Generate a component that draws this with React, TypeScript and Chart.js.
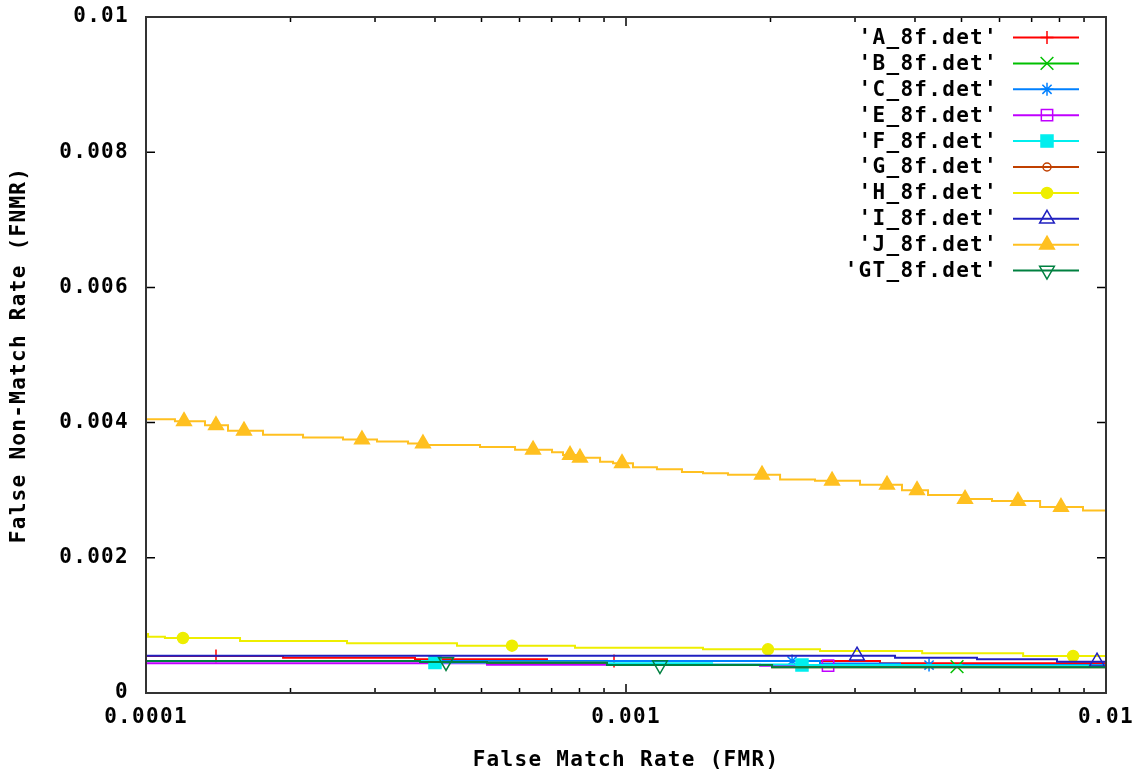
import React, { useEffect, useRef } from 'react';
import { Chart, registerables } from 'chart.js';
import { drawPoint } from 'chart.js/helpers';

Chart.register(...registerables);

// ---------- text ----------
const SERIES_NAMES = [
  "'A_8f.det'", "'B_8f.det'", "'C_8f.det'", "'E_8f.det'", "'F_8f.det'",
  "'G_8f.det'", "'H_8f.det'", "'I_8f.det'", "'J_8f.det'", "'GT_8f.det'",
];
const X_TITLE = 'False Match Rate (FMR)';
const Y_TITLE = 'False Non-Match Rate (FNMR)';

// ---------- axes ----------
const X_TICKS = [0.0001, 0.001, 0.01];
const X_TICK_LABELS = ['0.0001', '0.001', '0.01'];
const X_MINOR_TICKS = [
  0.0002, 0.0003, 0.0004, 0.0005, 0.0006, 0.0007, 0.0008, 0.0009,
  0.002, 0.003, 0.004, 0.005, 0.006, 0.007, 0.008, 0.009,
];
const Y_TICKS = [0, 0.002, 0.004, 0.006, 0.008, 0.01];
const Y_TICK_LABELS = ['0', '0.002', '0.004', '0.006', '0.008', '0.01'];

// ---------- data: [FMR, FNMR] (step starts) and marked points ----------
const A_LINE = [[1e-4, 0.000547], [1.93e-4, 0.000522], [3.634e-4, 0.000499], [6.846e-4, 0.000473], [3.382e-3, 0.000439], [1e-2, 0.000439]];
const A_MARKS = [[1.399e-4, 0.000547], [9.441e-4, 0.000473]];

const B_LINE = [[1e-4, 0.000473], [5.134e-4, 0.000448], [9.128e-4, 0.000414], [2.015e-3, 0.000389], [1e-2, 0.000389]];
const B_MARKS = [[4.894e-3, 0.000389]];

const C_LINE = [[1e-4, 0.000473], [2.536e-3, 0.000436], [3.723e-3, 0.000414], [1e-2, 0.000414]];
const C_MARKS = [[2.218e-3, 0.000473], [4.279e-3, 0.000414]];

const E_LINE = [[1e-4, 0.000439], [5.134e-4, 0.000419], [1.902e-3, 0.000404], [3.5e-3, 0.000399], [1e-2, 0.000399]];
const E_MARKS = [[2.636e-3, 0.000404]];

const F_LINE = [[1e-4, 0.000473], [3.9e-4, 0.000451], [9.128e-4, 0.000439], [1.511e-3, 0.000422], [2.3e-3, 0.000414], [5e-3, 0.000404], [1e-2, 0.000404]];
const F_MARKS = [[4.0e-4, 0.000451], [2.326e-3, 0.000414]];

const G_LINE = [[1e-4, 0.000473], [3.722e-4, 0.000459], [5.134e-4, 0.000448], [9.128e-4, 0.000414], [2.015e-3, 0.00038], [1e-2, 0.00038]];
const G_MARKS: number[][] = [];

const H_LINE = [[1e-4, 0.000873], [1.01e-4, 0.000833], [1.095e-4, 0.000814], [1.57e-4, 0.000769], [2.623e-4, 0.000735], [4.445e-4, 0.0007], [7.83e-4, 0.00067], [1.447e-3, 0.000646], [2.536e-3, 0.000621], [4.14e-3, 0.000587], [6.72e-3, 0.000547], [1e-2, 0.000547]];
const H_MARKS = [[1.194e-4, 0.000814], [5.787e-4, 0.0007], [1.976e-3, 0.000646], [8.54e-3, 0.000547]];

const I_LINE = [[1e-4, 0.000552], [3.635e-3, 0.000522], [5.386e-3, 0.000499], [7.905e-3, 0.000463], [1e-2, 0.000463]];
const I_MARKS = [[3.029e-3, 0.000552], [9.578e-3, 0.000463]];

const J_LINE = [[1e-4, 0.00405], [1.149e-4, 0.00402], [1.327e-4, 0.00396], [1.482e-4, 0.00388], [1.753e-4, 0.00382], [2.124e-4, 0.00378], [2.573e-4, 0.00375], [3.029e-4, 0.00372], [3.515e-4, 0.00369], [3.813e-4, 0.00367], [4.965e-4, 0.00364], [5.873e-4, 0.0036], [7.013e-4, 0.00356], [7.393e-4, 0.00352], [7.943e-4, 0.00348], [8.83e-4, 0.00342], [9.397e-4, 0.0034], [1.034e-3, 0.00334], [1.16e-3, 0.00331], [1.308e-3, 0.00327], [1.447e-3, 0.00325], [1.631e-3, 0.00323], [2.094e-3, 0.00316], [2.476e-3, 0.00314], [3.073e-3, 0.00308], [3.758e-3, 0.003], [4.258e-3, 0.00293], [5.012e-3, 0.00287], [5.788e-3, 0.00284], [7.29e-3, 0.00275], [8.955e-3, 0.0027], [1e-2, 0.0027]];
const J_MARKS = [[1.2e-4, 0.00402], [1.399e-4, 0.00396], [1.6e-4, 0.00388], [2.818e-4, 0.00375], [3.776e-4, 0.00369], [6.402e-4, 0.0036], [7.646e-4, 0.00352], [8.02e-4, 0.00348], [9.81e-4, 0.0034], [1.92e-3, 0.00323], [2.687e-3, 0.00314], [3.498e-3, 0.00308], [4.039e-3, 0.003], [5.085e-3, 0.00287], [6.556e-3, 0.00284], [8.058e-3, 0.00275]];

const GT_LINE = [[1e-4, 0.000473], [3.722e-4, 0.000459], [5.134e-4, 0.000448], [9.128e-4, 0.000414], [2.015e-3, 0.00038], [1e-2, 0.00038]];
const GT_MARKS = [[4.217e-4, 0.000459], [1.177e-3, 0.000414]];

const LINES = [A_LINE, B_LINE, C_LINE, E_LINE, F_LINE, G_LINE, H_LINE, I_LINE, J_LINE, GT_LINE];
const MARKS = [A_MARKS, B_MARKS, C_MARKS, E_MARKS, F_MARKS, G_MARKS, H_MARKS, I_MARKS, J_MARKS, GT_MARKS];

// ---------- styles ----------
const COLORS = ['#ff0000', '#00c000', '#0080ff', '#c000ff', '#00eeee', '#c04000', '#eeee00', '#2020c0', '#ffc020', '#008040'];
const POINT_STYLES = ['cross', 'crossRot', 'star', 'rect', 'rect', 'circle', 'circle', 'triangle', 'triangle', 'triangle'];
const FILLED = [false, false, false, false, true, false, true, false, true, false];
const RADII = [6.5, 9, 6.5, 8, 8.5, 4, 5.5, 8.5, 8.5, 8.5];
const ROTATIONS = [0, 0, 0, 0, 0, 0, 0, 0, 0, 180];

const FONT_FAMILY = "'DejaVu Sans Mono', monospace";
const FONT_SIZE = 21;
const LETTER_SPACING = '1.3px';
const LINE_WIDTH = 2;

const framePlugin = {
  id: 'frame',
  beforeUpdate(chart: any) { chart.ctx.letterSpacing = LETTER_SPACING; },
  beforeDraw(chart: any) { chart.ctx.letterSpacing = LETTER_SPACING; },
  afterDatasetsDraw(chart: any) {
    const { ctx, chartArea: a, scales } = chart;
    const xs = scales.x, ys = scales.y;
    ctx.save();
    ctx.strokeStyle = '#000';
    ctx.lineWidth = 1.5;
    ctx.beginPath();
    const tick = (x1: number, y1: number, x2: number, y2: number) => { ctx.moveTo(x1, y1); ctx.lineTo(x2, y2); };
    for (const v of X_TICKS) {
      const x = xs.getPixelForValue(v);
      tick(x, a.bottom, x, a.bottom - 9);
      tick(x, a.top, x, a.top + 9);
    }
    for (const v of X_MINOR_TICKS) {
      const x = xs.getPixelForValue(v);
      tick(x, a.bottom, x, a.bottom - 5);
      tick(x, a.top, x, a.top + 5);
    }
    for (const v of Y_TICKS) {
      const y = ys.getPixelForValue(v);
      tick(a.left, y, a.left + 9, y);
      tick(a.right, y, a.right - 9, y);
    }
    ctx.stroke();
    ctx.lineWidth = 2;
    ctx.strokeStyle = '#333';
    ctx.strokeRect(a.left, a.top, a.right - a.left, a.bottom - a.top);
    ctx.restore();
  },
  afterDraw(chart: any) {
    const ctx = chart.ctx;
    ctx.save();
    ctx.letterSpacing = LETTER_SPACING;
    ctx.font = `bold ${FONT_SIZE}px ${FONT_FAMILY}`;
    ctx.textAlign = 'right';
    ctx.textBaseline = 'middle';
    SERIES_NAMES.forEach((name, i) => {
      const y = 37.5 + i * 25.9;
      ctx.fillStyle = '#000';
      ctx.fillText(name, 998, y + 1);
      ctx.strokeStyle = COLORS[i];
      ctx.lineWidth = LINE_WIDTH;
      ctx.beginPath();
      ctx.moveTo(1013, y);
      ctx.lineTo(1079, y);
      ctx.stroke();
      ctx.lineWidth = 1.5;
      ctx.fillStyle = FILLED[i] ? COLORS[i] : 'rgba(0,0,0,0)';
      drawPoint(ctx, {
        pointStyle: POINT_STYLES[i] as any,
        rotation: ROTATIONS[i],
        radius: RADII[i],
        borderWidth: 1.5,
      } as any, 1047, y);
    });
    ctx.restore();
  },
};

export default function App() {
  const ref = useRef<HTMLCanvasElement | null>(null);
  useEffect(() => {
    if (!ref.current) return;
    const datasets = SERIES_NAMES.map((name, i) => {
      const pts = [
        ...LINES[i].map(([x, y]) => ({ x, y, m: false })),
        ...MARKS[i].map(([x, y]) => ({ x, y, m: true })),
      ].sort((p, q) => p.x - q.x);
      return {
        label: name,
        data: pts,
        stepped: true,
        borderColor: COLORS[i],
        borderWidth: LINE_WIDTH,
        backgroundColor: COLORS[i],
        fill: false,
        order: 10 - i,
        pointStyle: POINT_STYLES[i],
        pointRotation: ROTATIONS[i],
        pointBorderColor: COLORS[i],
        pointBackgroundColor: FILLED[i] ? COLORS[i] : 'rgba(0,0,0,0)',
        pointBorderWidth: 1.5,
        pointRadius: (c: any) => (c.raw && c.raw.m ? RADII[i] : 0),
        pointHoverRadius: 0,
      };
    });
    const font = { family: FONT_FAMILY, size: FONT_SIZE, weight: 'bold' as const };
    const chart = new Chart(ref.current, {
      type: 'line',
      data: { datasets: datasets as any },
      plugins: [framePlugin],
      options: {
        animation: false,
        responsive: false,
        maintainAspectRatio: false,
        events: [],
        layout: { padding: { left: 0, top: 17, right: 42, bottom: 0 } },
        plugins: { legend: { display: false }, tooltip: { enabled: false } },
        scales: {
          x: {
            type: 'logarithmic',
            min: 0.0001,
            max: 0.01,
            grid: { display: false, drawTicks: false },
            border: { display: false },
            afterBuildTicks: (s: any) => { s.ticks = X_TICKS.map((v) => ({ value: v })); },
            afterFit: (s: any) => { s.height = 80; s.paddingLeft = 0; s.paddingRight = 0; },
            ticks: {
              autoSkip: false,
              maxRotation: 0,
              padding: 12,
              color: '#000',
              font,
              callback: (_v: any, i: number) => X_TICK_LABELS[i],
            },
            title: { display: true, text: X_TITLE, color: '#000', font, padding: { top: 0, bottom: 0 } },
          },
          y: {
            type: 'linear',
            min: 0,
            max: 0.01,
            grid: { display: false, drawTicks: false },
            border: { display: false },
            afterBuildTicks: (s: any) => { s.ticks = Y_TICKS.map((v) => ({ value: v })); },
            afterFit: (s: any) => { s.width = 146; s.paddingTop = 0; s.paddingBottom = 0; },
            ticks: {
              padding: 17,
              color: '#000',
              font,
              callback: (_v: any, i: number) => Y_TICK_LABELS[i],
            },
            title: { display: true, text: Y_TITLE, color: '#000', font, padding: { top: 7, bottom: 0 } },
          },
        },
      } as any,
    });
    return () => chart.destroy();
  }, []);
  return (
    <div style={{ position: 'absolute', left: 0, top: 0, width: 1148, height: 773, background: '#fff' }}>
      <canvas ref={ref} width={1148} height={773} style={{ display: 'block' }} />
    </div>
  );
}
